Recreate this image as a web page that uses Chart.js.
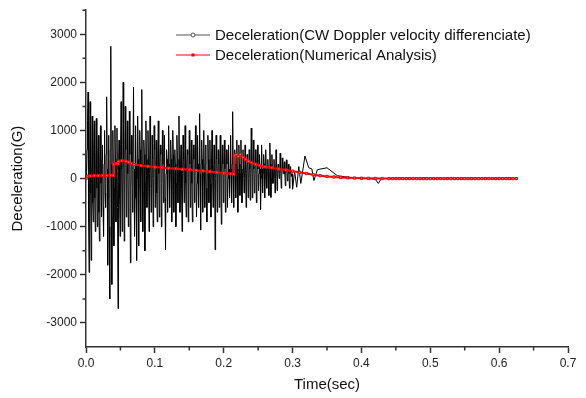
<!DOCTYPE html>
<html>
<head>
<meta charset="utf-8">
<script src="https://cdn.jsdelivr.net/npm/chart.js@4.4.0/dist/chart.umd.min.js"></script>
<style>
  html, body { margin: 0; padding: 0; background: #fff; }
</style>
</head>
<body>
<canvas id="grafico" width="586" height="398"></canvas>
<script>
// ===== DATA =====
const seriesNames = [
  "Deceleration(CW Doppler velocity differenciate)",
  "Deceleration(Numerical Analysis)"
];

// CW Doppler: dense part sampled every 0.75 ms from t = 0
const cwStart = 0;
const cwStep = 0.00075;
const cwDense = [
  0, 150, 600, 1200, 1800, -900, -1950, 400, 1600, -300, -1700, 200, 1300, -500, -900, 600, 1200, -400, -1100, 300,
  1250, -200, -1000, 500, 900, -700, -1300, 200, 1100, -100, -800, 400, 700, -600, -1200, 300, 1000, -300, -600, 500,
  1700, 200, -1800, -400, 900, -1000, -2500, 600, 2750, 300, -2200, -800, 1000, 100, -1400, -200, 1100, 400, -900, 200,
  1050, -600, -2700, 300, 800, -400, -1200, 700, 1600, 200, -1100, -300, 2000, 400, -1300, 100, 1500, 600, -800, 300,
  1200, 100, -1000, -300, 1400, 500, -1750, -200, 900, 300, -700, 400, 1900, 200, -1200, -400, 1100, 300, -1700, 0,
  1300, 400, -1400, -200, 1000, 600, -900, 200, 1850, 300, -1100, -300, 800, 500, -1500, -100, 1200, 400, -600, 200,
  1000, 300, -1100, 100, 1300, 500, -700, -200, 900, 400, -1000, 0, 1100, 600, -600, 200, 800, -300, -900, 400,
  1200, 100, -800, 300, 700, 500, -1000, -100, 1000, 300, -500, 200, 900, -400, -1480, 100, 600, 400, -700, 200,
  1100, 300, -600, 100, 800, 400, -900, -200, 1000, 500, -700, 0, 600, 300, -1000, -100, 900, 400, -500, 200,
  1300, 200, -700, 300, 700, -200, -1100, 100, 900, 400, -500, 200, 1100, -100, -800, 300, 600, 500, -900, 100,
  1000, 300, -600, 200, 800, -100, -900, 300, 700, 400, -500, 100, 1100, 200, -800, -100, 900, 300, -600, 200,
  1350, 100, -1070, 300, 800, 400, -700, 0, 1000, 200, -600, 300, 700, -200, -900, 100, 900, 400, -500, 200,
  800, -100, -800, 300, 1000, 200, -600, 100, 700, 300, -1480, 0, 900, 400, -700, 100, 600, 300, -600, 200,
  900, 100, -950, 200, 700, 300, -500, 0, 800, 200, -700, 100, 600, 300, -600, 0, 700, 200, -400, 100,
  900, 200, -500, 300, 1390, 100, -600, 200, 600, 300, -400, 0, 800, 200, -700, 100, 700, 300, -350, 100,
  800, 200, -500, 100, 600, 300, -300, 0, 700, 200, -600, 100, 500, 300, -400, 0, 600, 200, -450, 100,
  1050, 300, -400, 100, 800, 200, -300, 0, 600, 300, -500, 100, 700, 200, -250, 100, 500, 200, -640, 0,
  700, 200, -300, 100, 500, 300, -400, 0, 600, 200, -200, 100, 400, 200, -350, 100, 740, 300, -390, 0,
  500, 200, -100, 100, 400, 200, -300, 0, 600, 300, -250, 100, 300, 200, 0, 100, 530, 200, -200, 0,
  430, 200, 100, 200, 350, 100, -150, 100, 390, 200, -50, 100, 300, 100, -200, 0, 250, 100, 50, 100
];
// CW Doppler: sparse tail
const cwTailT = [0.300, 0.303, 0.306, 0.309, 0.312, 0.318, 0.3235, 0.328, 0.331, 0.336,
  0.350, 0.365, 0.375, 0.390, 0.405, 0.420, 0.4245, 0.429, 0.45, 0.50, 0.55, 0.60, 0.625];
const cwTailV = [-220, 150, -180, 250, -100, 470, 225, 200, -40, 185,
  225, 60, 40, 10, 0, -10, -100, 0, 0, 0, 0, 0, 0];

// Numerical analysis
const naT = [0, 0.002, 0.006, 0.012, 0.018, 0.024, 0.030, 0.036, 0.0395, 0.040,
  0.044, 0.0465, 0.047, 0.052, 0.058, 0.062, 0.066, 0.070, 0.080, 0.090,
  0.100, 0.110, 0.120, 0.130, 0.140, 0.150, 0.160, 0.170, 0.180, 0.190,
  0.200, 0.210, 0.2145, 0.2155, 0.218, 0.221, 0.224, 0.228, 0.232, 0.236,
  0.240, 0.246, 0.252, 0.260, 0.270, 0.280, 0.290, 0.300, 0.310, 0.320,
  0.330, 0.340, 0.350, 0.360, 0.370, 0.380, 0.390, 0.400, 0.410, 0.420,
  0.430, 0.440, 0.445, 0.450, 0.455, 0.460, 0.465, 0.470, 0.475, 0.480,
  0.485, 0.490, 0.495, 0.500, 0.505, 0.510, 0.515, 0.520, 0.525, 0.530,
  0.535, 0.540, 0.545, 0.550, 0.555, 0.560, 0.565, 0.570, 0.575, 0.580,
  0.585, 0.590, 0.595, 0.600, 0.605, 0.610, 0.615, 0.620, 0.625];
const naV = [0, 50, 55, 60, 60, 65, 65, 70, 70, 300,
  310, 310, 360, 370, 360, 340, 310, 290, 270, 255,
  240, 230, 215, 205, 195, 185, 170, 160, 145, 130,
  115, 100, 95, 480, 500, 460, 500, 440, 400, 360,
  330, 300, 270, 245, 225, 200, 180, 155, 130, 105,
  80, 60, 45, 35, 25, 18, 12, 8, 5, 3,
  1, 0, 0, 0, 0, 0, 0, 0, 0, 0,
  0, 0, 0, 0, 0, 0, 0, 0, 0, 0,
  0, 0, 0, 0, 0, 0, 0, 0, 0, 0,
  0, 0, 0, 0, 0, 0, 0, 0, 0];

// ticks
const xTicks = [0, 0.1, 0.2, 0.3, 0.4, 0.5, 0.6, 0.7];
const xMinor = [0.05, 0.15, 0.25, 0.35, 0.45, 0.55, 0.65];
const yTicks = [-3000, -2000, -1000, 0, 1000, 2000, 3000];
const yMinor = [-2500, -1500, -500, 500, 1500, 2500, 3500];

// ===== SERIES =====
const cwData = cwDense.map((v, i) => ({ x: cwStart + i * cwStep, y: v }))
  .concat(cwTailT.map((t, i) => ({ x: t, y: cwTailV[i] })));
const naData = naT.map((t, i) => ({ x: t, y: naV[i] }));

const FONT = "'Liberation Sans', Arial, sans-serif";
const AXIS = "#333";

// ===== PLUGINS =====
const minorTicks = {
  id: "minorTicks",
  afterDraw(chart) {
    const ctx = chart.ctx;
    const x = chart.scales.x, y = chart.scales.y;
    ctx.save();
    ctx.strokeStyle = AXIS;
    ctx.lineWidth = 1.5;
    ctx.beginPath();
    xMinor.forEach(v => {
      const px = x.getPixelForValue(v);
      ctx.moveTo(px, x.top);
      ctx.lineTo(px, x.top + 3.5);
    });
    yMinor.forEach(v => {
      const py = y.getPixelForValue(v);
      ctx.moveTo(y.right, py);
      ctx.lineTo(y.right - 3.5, py);
    });
    ctx.stroke();
    ctx.restore();
  }
};

const legenda = {
  id: "legenda",
  afterDraw(chart) {
    const ctx = chart.ctx;
    const rows = [
      { y: 35, color: "#555", mark: "circle" },
      { y: 55, color: "#ff0000", mark: "rect" }
    ];
    ctx.save();
    rows.forEach((r, i) => {
      ctx.strokeStyle = r.color;
      ctx.lineWidth = 1;
      ctx.beginPath();
      ctx.moveTo(176, r.y);
      ctx.lineTo(210, r.y);
      ctx.stroke();
      if (r.mark === "circle") {
        ctx.fillStyle = "#fff";
        ctx.beginPath();
        ctx.arc(193, r.y, 2, 0, Math.PI * 2);
        ctx.fill();
        ctx.stroke();
      } else {
        ctx.fillStyle = r.color;
        ctx.fillRect(191.5, r.y - 1.5, 3, 3);
      }
      ctx.fillStyle = "#111";
      ctx.font = "15px " + FONT;
      ctx.textBaseline = "middle";
      ctx.fillText(seriesNames[i], 215, r.y + 0.5);
    });
    ctx.restore();
  }
};

// ===== CHART =====
new Chart(document.getElementById("grafico"), {
  type: "line",
  data: {
    datasets: [
      {
        label: seriesNames[1],
        data: naData,
        order: 0,
        borderColor: "#ff0000",
        borderWidth: 2,
        pointStyle: "rect",
        pointRadius: 1.6,
        pointBorderWidth: 1,
        pointBorderColor: "#ff0000",
        pointBackgroundColor: "#ff7070",
        tension: 0
      },
      {
        label: seriesNames[0],
        data: cwData,
        order: 1,
        borderColor: "#000",
        borderWidth: 1,
        pointRadius: 0,
        tension: 0
      }
    ]
  },
  options: {
    responsive: false,
    animation: false,
    layout: { padding: { top: 6, right: 18, left: 0, bottom: 0 } },
    plugins: { legend: { display: false }, tooltip: { enabled: false } },
    scales: {
      x: {
        type: "linear",
        min: 0,
        max: 0.7,
        afterBuildTicks: s => { s.ticks = xTicks.map(v => ({ value: v })); },
        afterFit: s => { s.height = 51; },
        ticks: {
          callback: v => Number(v).toFixed(1),
          font: { family: FONT, size: 12 },
          color: "#222",
          padding: 3,
          maxRotation: 0
        },
        grid: { drawOnChartArea: false, tickLength: 6, tickWidth: 1.5, tickColor: AXIS },
        border: { color: AXIS, width: 1.5 },
        title: {
          display: true,
          text: "Time(sec)",
          font: { family: FONT, size: 15 },
          color: "#111",
          padding: { top: 0, bottom: 4 }
        }
      },
      y: {
        type: "linear",
        min: -3500,
        max: 3500,
        afterBuildTicks: s => { s.ticks = yTicks.map(v => ({ value: v })); },
        afterFit: s => { s.width = 86; },
        ticks: {
          callback: v => String(v),
          font: { family: FONT, size: 12 },
          color: "#222",
          padding: 3
        },
        grid: { drawOnChartArea: false, tickLength: 6, tickWidth: 1.5, tickColor: AXIS },
        border: { color: AXIS, width: 1.5 },
        title: {
          display: true,
          text: "Deceleration(G)",
          font: { family: FONT, size: 15 },
          color: "#111",
          padding: { top: 9, bottom: 0 }
        }
      }
    }
  },
  plugins: [minorTicks, legenda]
});
</script>
</body>
</html>
